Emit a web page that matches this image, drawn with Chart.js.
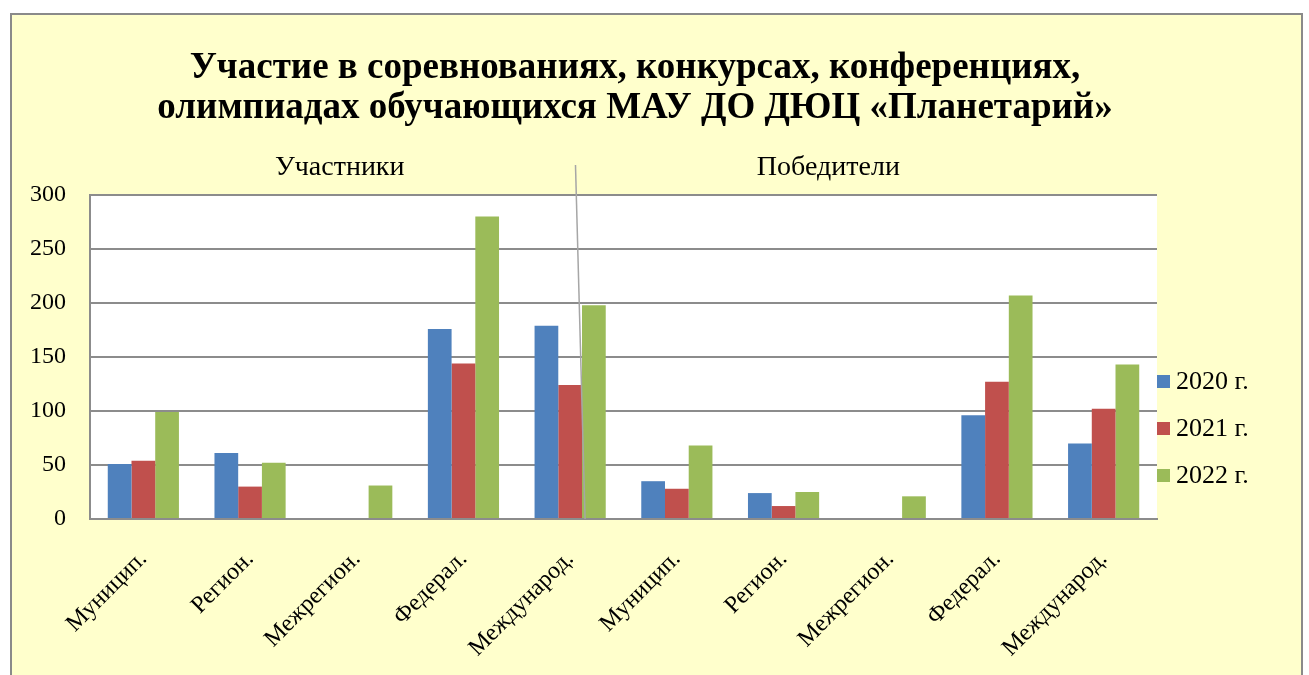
<!DOCTYPE html>
<html>
<head>
<meta charset="utf-8">
<script src="https://cdn.jsdelivr.net/npm/chart.js@4"></script>
<style>
  html, body { margin: 0; padding: 0; background: #fff; overflow: hidden; }
  #wrap { position: relative; width: 1309px; height: 675px; }
  #box { position: absolute; left: 10px; top: 13px; width: 1293px; height: 680px;
         background: #ffffcc; border: 2px solid #8a8a8a; box-sizing: border-box; }
  #chart { position: absolute; left: 0; top: 0; }
</style>
</head>
<body>
<div id="wrap">
  <div id="box"></div>
  <canvas id="chart" width="1309" height="675"></canvas>
</div>
<script>
// данные
const categories = ["Муницип.", "Регион.", "Межрегион.", "Федерал.", "Международ.",
                    "Муницип.", "Регион.", "Межрегион.", "Федерал.", "Международ."];
const seriesNames = ["2020 г.", "2021 г.", "2022 г."];
const values2020 = [51, 61, null, 176, 179, 35, 24, null, 96, 70];
const values2021 = [54, 30, null, 144, 124, 28, 12, null, 127, 102];
const values2022 = [99, 52, 31, 280, 198, 68, 25, 21, 207, 143];
const groupLabels = ["Участники", "Победители"];
const titleLines = ["Участие в соревнованиях, конкурсах, конференциях,",
                    "олимпиадах обучающихся МАУ ДО ДЮЦ «Планетарий»"];

const colors = ["#4f81bd", "#c0504d", "#9bbb59"];
const gridColor = "#8c8c8c";
const serif = "'Liberation Serif', 'Times New Roman', serif";

// белый фон области построения
const plotBg = {
    id: "plotBg",
    beforeDraw(chart) {
        const { ctx, chartArea: a } = chart;
        ctx.save();
        ctx.fillStyle = "#ffffff";
        ctx.fillRect(a.left, a.top, a.right - a.left, a.bottom - a.top);
        ctx.restore();
    }
};

// заголовок, подписи групп, линия и легенда
const extras = {
    id: "extras",
    afterDraw(chart) {
        const { ctx, chartArea: a } = chart;
        const x = chart.scales.x;
        ctx.save();

        // заголовок по центру рамки
        ctx.fillStyle = "#000";
        ctx.font = "bold 37px " + serif;
        ctx.textAlign = "center";
        ctx.textBaseline = "alphabetic";
        titleLines.forEach((line, i) => {
            ctx.fillText(line, 635, 78 + i * 40);
        });

        // наклонная линия-выноска
        ctx.strokeStyle = "#a6a6a6";
        ctx.lineWidth = 1.5;
        ctx.beginPath();
        ctx.moveTo(x.getPixelForValue(4.05), a.top - 30);
        ctx.lineTo(x.getPixelForValue(4.14), a.bottom);
        ctx.stroke();

        ctx.fillStyle = "#000";
        ctx.font = "28px " + serif;
        ctx.textBaseline = "middle";
        ctx.fillText(groupLabels[0], x.getPixelForValue(1.84), a.top - 27);
        ctx.fillText(groupLabels[1], x.getPixelForValue(6.42), a.top - 27);

        // легенда
        ctx.textAlign = "left";
        ctx.font = "26px " + serif;
        chart.data.datasets.forEach((ds, i) => {
            const y = 381 + i * 47;
            ctx.fillStyle = ds.backgroundColor;
            ctx.fillRect(a.right, y - 6, 13, 13);
            ctx.fillStyle = "#000";
            ctx.fillText(ds.label, a.right + 19, y + 1);
        });
        ctx.restore();
    }
};

const ctx = document.getElementById("chart").getContext("2d");
new Chart(ctx, {
    type: "bar",
    data: {
        labels: categories,
        datasets: [
            { label: seriesNames[0], data: values2020, backgroundColor: colors[0] },
            { label: seriesNames[1], data: values2021, backgroundColor: colors[1] },
            { label: seriesNames[2], data: values2022, backgroundColor: colors[2] }
        ]
    },
    options: {
        responsive: false,
        animation: false,
        layout: { padding: { left: 0, right: 152, top: 195, bottom: 0 } },
        datasets: { bar: { categoryPercentage: 0.667, barPercentage: 1 } },
        plugins: {
            legend: { display: false },
            tooltip: { enabled: false },
            title: { display: false }
        },
        scales: {
            x: {
                grid: { display: false },
                border: { color: gridColor, width: 2 },
                ticks: {
                    color: "#000",
                    font: { family: serif, size: 24 },
                    minRotation: 45,
                    maxRotation: 45,
                    autoSkip: false,
                    padding: 18
                },
                afterFit(scale) { scale.height = 156; }
            },
            y: {
                min: 0,
                max: 300,
                grid: { color: gridColor, lineWidth: 2, drawTicks: false },
                border: { color: gridColor, width: 2 },
                ticks: {
                    stepSize: 50,
                    color: "#000",
                    font: { family: serif, size: 24 },
                    padding: 24
                },
                afterFit(scale) { scale.width = 90; }
            }
        }
    },
    plugins: [plotBg, extras]
});
</script>
</body>
</html>
